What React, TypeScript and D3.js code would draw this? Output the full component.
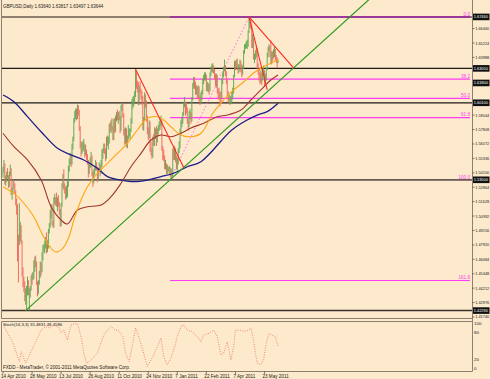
import React from "react";
import * as d3 from "d3";

// ---- Daily GBPUSD bars, [high, low, close] in pips (1.xxxx) ----
const firstOpen = 5390;
const apr2010 = [[5460,5370,5430],[5520,5410,5480],[5490,5310,5350],[5390,5300,5350],[5420,5330,5390],[5450,5360,5380],[5390,5280,5310],[5420,5290,5400],[5480,5380,5440],[5450,5220,5230],[5280,5180,5250],[5340,5230,5320],[5340,5270,5290]];
const may2010 = [[5320,5230,5250],[5260,5130,5170],[5190,5050,5080],[5140,4650,4800],[4880,4470,4790],[5150,4790,4930],[4990,4820,4950],[4960,4800,4820],[4830,4520,4560],[4600,4430,4470],[4520,4390,4450],[4480,4310,4330],[4420,4280,4390],[4440,4229,4410],[4520,4360,4470],[4490,4360,4370],[4420,4231,4400],[4440,4340,4420],[4530,4400,4510],[4550,4450,4500],[4560,4490,4530]];
const jun2010 = [[4660,4500,4640],[4690,4560,4660],[4700,4600,4630],[4650,4450,4460],[4480,4350,4400],[4490,4370,4470],[4570,4450,4530],[4650,4510,4620],[4640,4530,4570],[4730,4560,4700],[4790,4660,4770],[4800,4730,4780],[4830,4720,4800],[4860,4760,4830],[4900,4720,4750],[4830,4730,4800],[4930,4760,4900],[4980,4890,4960],[5090,4940,5070],[5140,5020,5130],[5140,4960,4980],[5000,4940,4950]];
const jul2010 = [[5200,4940,5180],[5230,5140,5180],[5200,5130,5170],[5240,5120,5150],[5200,5080,5170],[5220,5120,5160],[5160,5050,5080],[5100,4950,4960],[5150,4950,5130],[5320,5120,5310],[5400,5280,5380],[5440,5260,5290],[5320,5230,5270],[5290,5180,5240],[5300,5190,5260],[5340,5200,5300],[5470,5290,5450],[5530,5420,5510],[5580,5480,5530],[5560,5460,5490],[5660,5480,5640],[5720,5610,5690]];
const aug2010 = [[5880,5680,5870],[5940,5840,5920],[5960,5870,5930],[5960,5860,5900],[5995,5870,5950],[5990,5900,5930],[5950,5770,5800],[5810,5620,5650],[5680,5550,5600],[5670,5570,5620],[5680,5590,5630],[5700,5600,5650],[5660,5540,5570],[5650,5560,5600],[5610,5520,5550],[5570,5480,5510],[5520,5370,5430],[5500,5400,5480],[5540,5450,5500],[5590,5460,5550],[5560,5380,5400],[5420,5290,5330]];
const sep2010 = [[5440,5320,5420],[5470,5390,5450],[5520,5430,5490],[5500,5430,5450],[5460,5330,5380],[5450,5350,5440],[5500,5420,5470],[5480,5380,5410],[5520,5400,5500],[5610,5460,5590],[5620,5530,5600],[5660,5580,5640],[5660,5570,5600],[5620,5510,5540],[5720,5530,5690],[5730,5640,5680],[5720,5610,5680],[5830,5660,5810],[5840,5760,5790],[5860,5750,5840],[5880,5770,5790],[5810,5690,5700]];
const oct2010 = [[5870,5690,5850],[5880,5750,5770],[5900,5760,5880],[5930,5850,5920],[5950,5860,5900],[5930,5830,5910],[5940,5860,5890],[5900,5750,5780],[5990,5770,5980],[6010,5940,6000],[6010,5880,5900],[5920,5730,5760],[5790,5650,5700],[5800,5660,5750],[5790,5630,5640],[5730,5620,5700],[5820,5690,5750],[5790,5720,5750],[5790,5700,5780],[5880,5760,5850],[6040,5830,6030]];
const nov2010 = [[6060,5960,6030],[6070,5980,6050],[6110,6000,6080],[6298,6060,6260],[6270,6130,6160],[6200,6100,6140],[6190,5990,6010],[6160,5990,6140],[6190,6090,6120],[6130,6040,6090],[6110,5990,6060],[6070,5780,5800],[5890,5770,5870],[6100,5860,6070],[6080,5970,6000],[6030,5850,5880],[5900,5740,5770],[5800,5690,5720],[5860,5710,5840],[5850,5590,5610],[5680,5560,5580],[5620,5530,5560]];
const dec2010 = [[5720,5540,5690],[5740,5640,5680],[5800,5640,5780],[5790,5700,5750],[5810,5640,5690],[5790,5670,5770],[5820,5740,5780],[5850,5770,5800],[5880,5780,5840],[5900,5810,5850],[5860,5600,5620],[5640,5520,5560],[5610,5510,5550],[5560,5440,5470],[5520,5440,5480],[5490,5400,5420],[5480,5400,5430],[5460,5420,5440],[5470,5400,5440],[5460,5380,5400],[5450,5350,5420],[5440,5360,5390],[5620,5380,5600]];
const jan2011 = [[5620,5520,5560],[5640,5520,5580],[5620,5500,5540],[5560,5440,5470],[5540,5430,5510],[5620,5480,5600],[5680,5580,5640],[5790,5620,5770],[5860,5740,5840],[5890,5800,5850],[5930,5830,5920],[6020,5900,6000],[6060,5970,6010],[6020,5900,5960],[6010,5920,5950],[5970,5830,5840],[5870,5770,5820],[5940,5800,5920],[5960,5870,5930],[5930,5830,5860],[6060,5850,6040]];
const feb2011 = [[6180,6030,6160],[6230,6130,6220],[6230,6130,6170],[6190,6080,6120],[6160,6080,6120],[6150,6040,6080],[6160,6050,6140],[6150,6020,6040],[6070,5990,6010],[6100,6000,6070],[6120,6030,6100],[6220,6080,6200],[6250,6170,6230],[6270,6200,6240],[6270,6200,6240],[6250,6110,6140],[6190,6110,6140],[6180,6100,6140],[6170,6080,6120],[6270,6110,6260]];
const mar2011 = [[6320,6240,6300],[6340,6270,6310],[6350,6270,6320],[6330,6260,6290],[6300,6210,6230],[6260,6150,6160],[6260,6140,6240],[6250,6090,6110],[6130,6040,6100],[6140,6040,6080],[6100,5980,6060],[6110,6000,6050],[6220,6040,6200],[6270,6170,6250],[6320,6230,6300],[6380,6280,6320],[6330,6240,6260],[6280,6170,6200],[6220,6070,6090],[6110,6020,6050],[6080,6000,6050],[6070,5990,6030],[6070,6000,6040]];
const apr2011 = [[6110,6000,6060],[6140,6040,6110],[6250,6090,6240],[6370,6230,6360],[6370,6290,6330],[6380,6310,6340],[6390,6290,6310],[6340,6260,6300],[6340,6270,6310],[6380,6290,6360],[6370,6270,6330],[6340,6230,6270],[6330,6250,6310],[6460,6300,6440],[6510,6430,6490],[6520,6470,6510],[6540,6480,6520],[6550,6470,6530],[6630,6490,6620],[6746,6610,6690],[6740,6650,6700]];
const may2011 = [[6720,6640,6660],[6680,6480,6500],[6600,6480,6560],[6570,6380,6400],[6430,6350,6400],[6460,6380,6430],[6500,6400,6470],[6480,6300,6320],[6350,6250,6280],[6300,6200,6230],[6270,6170,6220],[6290,6180,6260],[6270,6160,6220],[6300,6200,6270],[6330,6250,6290],[6290,6150,6190],[6260,6170,6210],[6310,6200,6300],[6440,6290,6430],[6490,6400,6470],[6510,6450,6480],[6500,6400,6440]];
const jun2011 = [[6545,6340,6350],[6450,6340,6440],[6450,6370,6420],[6470,6390,6440],[6490,6400,6470],[6470,6370,6390],[6420,6350,6380],[6400,6310,6330],[6382,6350,6364]];

// ---- Moving averages: [bar index, price] ----
const orangeMA = [[0,1.5291],[12,1.5234],[23,1.5149],[34,1.5034],[42,1.4903],[51,1.4783],[58,1.4731],[66,1.4765],[73,1.4868],[78,1.5005],[86,1.5177],[93,1.5291],[104,1.5406],[115,1.5491],[126,1.5577],[137,1.5663],[148,1.5777],[159,1.5877],[170,1.5891],[177,1.5863],[185,1.5805],[196,1.5734],[207,1.5719],[218,1.5749],[232,1.5931],[243,1.6034],[254,1.6120],[265,1.6188],[276,1.6265],[284,1.6306],[291,1.6334],[298,1.6362],[303,1.6377]];
const brownMA = [[0,1.5749],[12,1.5634],[27,1.5520],[42,1.5348],[53,1.5119],[64,1.5005],[71,1.4971],[82,1.5091],[93,1.5119],[108,1.5134],[119,1.5205],[130,1.5320],[141,1.5462],[152,1.5577],[163,1.5691],[174,1.5734],[185,1.5719],[196,1.5749],[207,1.5794],[221,1.5834],[236,1.5891],[247,1.5905],[262,1.5948],[273,1.6034],[284,1.6120],[295,1.6205],[303,1.6248]];
const navyMA = [[0,1.6077],[12,1.6019],[27,1.5891],[42,1.5762],[60,1.5620],[75,1.5563],[89,1.5520],[104,1.5449],[115,1.5377],[130,1.5348],[144,1.5334],[159,1.5348],[174,1.5377],[188,1.5406],[203,1.5462],[218,1.5505],[252,1.5777],[269,1.5863],[280,1.5905],[291,1.5934],[303,1.6006]];

// ---- Stochastic main line: [bar index, value] ----
const stochK = [[1,92],[11,56],[16,25],[18,14],[20,36],[25,11],[36,58],[42,84],[47,92],[51,89],[56,96],[62,89],[64,78],[67,84],[71,62],[75,96],[78,98],[82,98],[86,70],[89,33],[92,11],[95,14],[99,22],[104,33],[108,56],[111,73],[115,84],[119,92],[124,84],[127,84],[132,70],[135,33],[139,14],[143,56],[146,89],[149,73],[154,40],[159,3],[165,25],[170,47],[174,67],[177,25],[181,7],[185,22],[188,40],[192,70],[196,92],[199,96],[203,84],[208,81],[214,70],[218,58],[221,73],[227,77],[232,84],[236,70],[240,29],[243,33],[247,58],[251,18],[254,47],[256,84],[262,84],[265,81],[271,84],[273,89],[276,62],[278,33],[280,11],[284,7],[287,18],[290,56],[293,77],[296,73],[300,70],[303,47]];

// ---- Axis labels ----
const dateLabels = ["14 Apr 2010","28 May 2010","13 Jul 2010","26 Aug 2010","11 Oct 2010","24 Nov 2010","7 Jan 2011","22 Feb 2011","7 Apr 2011","23 May 2011"];
const dateLabelBars = [0,32,64,96,128,160,192,224,256,288];
const priceTicks = [1.4174,1.42976,1.44212,1.45448,1.46684,1.4792,1.49156,1.50392,1.51628,1.52864,1.541,1.55336,1.56572,1.57808,1.59044,1.6028,1.61516,1.62752,1.63988,1.65224,1.6646];
const priceTickLabels = ["1.41740","1.42976","1.44212","1.45448","1.46684","1.47920","1.49156","1.50392","1.51628","1.52864","1.54100","1.55336","1.56572","1.57808","1.59044","1.60280","1.61516","1.62752","1.63988","1.65224","1.66460"];
const boxPrices = [1.6746,1.6305,1.618,1.601,1.535,1.4229];
const boxLabels = ["1.67460","1.63050","1.61800","1.60100","1.53500","1.42290"];
const stochTicks = [100,80,20,0];

// ---- Drawn objects ----
const hLinePrices = [1.6746,1.6305,1.601,1.535,1.4229];
const hLineColors = ["#6b5a50","#1e1a18","#1e1a18","#6a5f55","#3a332e"];
const hLineWidths = [1.6,1.2,1.2,1.8,1.5];
const fibHigh = 1.6746, fibLow = 1.535;
const fibLevels = [0,38.2,50,61.8,100,161.8];
const fibLabels = ["0.0","38.2","50.0","61.8","100.0","161.8"];
const fibStartBar = 184, fibEndBar = 271;
const greenTrend = [[25,1.4229],[184,1.535]];
const redTrends = [
  [[271,1.6746],[320,1.6309]],
  [[146,1.6298],[199,1.5456]],
  [[271,1.6746],[291,1.612]],
];

const FONT = "'Liberation Sans', Arial, sans-serif";

export default function App() {
  const W = 490, H = 379;
  const months = [apr2010,may2010,jun2010,jul2010,aug2010,sep2010,oct2010,nov2010,dec2010,jan2011,feb2011,mar2011,apr2011,may2011,jun2011];
  const raw = months.flat();
  const bars = raw.map((b, i) => {
    const open = i === 0 ? firstOpen : raw[i - 1][2];
    return { i, o: open / 10000 + 1, h: b[0] / 10000 + 1, l: b[1] / 10000 + 1, c: b[2] / 10000 + 1 };
  });

  const x = d3.scaleLinear().domain([0, 303]).range([3, 278.1]);
  const y = d3.scaleLinear().domain([1.41654, 1.68911]).range([318, 0]);
  const ys = d3.scaleLinear().domain([0, 100]).range([368, 323]);

  const maLine = d3.line<number[]>().x(d => x(d[0])).y(d => y(d[1])).curve(d3.curveCatmullRom.alpha(0.5));
  const stLine = d3.line<number[]>().x(d => x(d[0])).y(d => ys(d[1])).curve(d3.curveLinear);

  const slope = (greenTrend[1][1] - greenTrend[0][1]) / (greenTrend[1][0] - greenTrend[0][0]);
  const gEnd = 430;
  const gEndP = greenTrend[0][1] + slope * (gEnd - greenTrend[0][0]);

  const fibP = (lv: number) => fibHigh - (lv / 100) * (fibHigh - fibLow);
  const axisX = 472.5;

  const boxYs = boxPrices.map(p => y(p));

  return (
    <svg width={W} height={H} style={{ position: "absolute", left: 0, top: 0, background: "#fde9cb" }} fontFamily={FONT}>
      <defs>
        <clipPath id="mainClip"><rect x={2} y={0} width={470} height={318} /></clipPath>
      </defs>
      <rect x={0} y={0} width={W} height={H} fill="#fde9cb" />

      <g clipPath="url(#mainClip)">
        {fibLevels.map((lv, k) => (
          <line key={"fib" + k} x1={x(fibStartBar)} x2={470} y1={y(fibP(lv))} y2={y(fibP(lv))} stroke="#ff3cf5" strokeWidth={1.1} />
        ))}
        {hLinePrices.map((p, k) => (
          <line key={"h" + k} x1={2} x2={472} y1={y(p)} y2={y(p)} stroke={hLineColors[k]} strokeWidth={hLineWidths[k]} />
        ))}
        <line x1={x(fibStartBar)} x2={470} y1={y(fibHigh)} y2={y(fibHigh)} stroke="#a22aa6" strokeWidth={1.6} />
        <line x1={x(fibStartBar)} y1={y(fibLow)} x2={x(fibEndBar)} y2={y(fibHigh)} stroke="#ff5cf0" strokeWidth={0.9} strokeDasharray="1.5 2" />

        {bars.map(b => (
          <line key={"b" + b.i} x1={x(b.i)} x2={x(b.i)} y1={y(b.h)} y2={y(b.l)}
            stroke={b.c >= b.o ? "#5aa84e" : "#f0665c"} strokeWidth={0.95} />
        ))}

        <path d={maLine(navyMA) || ""} fill="none" stroke="#1c1c8a" strokeWidth={1.3} />
        <path d={maLine(brownMA) || ""} fill="none" stroke="#a0362c" strokeWidth={1.1} />
        <path d={maLine(orangeMA) || ""} fill="none" stroke="#ffa512" strokeWidth={1.1} />

        <line x1={x(greenTrend[0][0])} y1={y(greenTrend[0][1])} x2={x(gEnd)} y2={y(gEndP)} stroke="#2f9a1e" strokeWidth={1.2} />
        {redTrends.map((t, k) => (
          <line key={"r" + k} x1={x(t[0][0])} y1={y(t[0][1])} x2={x(t[1][0])} y2={y(t[1][1])} stroke="#ff2a22" strokeWidth={1.1} />
        ))}
      </g>

      {fibLevels.map((lv, k) => (
        <text key={"fl" + k} x={470} y={y(fibP(lv)) - 1.2} textAnchor="end" fontSize={4.6} fill="#ff3cf5">{fibLabels[k]}</text>
      ))}

      <line x1={1.5} x2={1.5} y1={0} y2={318.5} stroke="#8c8070" strokeWidth={1} />
      <line x1={1.5} x2={axisX} y1={318.5} y2={318.5} stroke="#8c8070" strokeWidth={1} />
      <line x1={1.5} x2={axisX} y1={321.5} y2={321.5} stroke="#8c8070" strokeWidth={1} />
      <line x1={1.5} x2={axisX} y1={371.5} y2={371.5} stroke="#8c8070" strokeWidth={1} />
      <line x1={1.5} x2={1.5} y1={321.5} y2={371.5} stroke="#8c8070" strokeWidth={1} />
      <line x1={axisX} x2={axisX} y1={0} y2={371.5} stroke="#8c8070" strokeWidth={1} />

      <text x={3} y={8} fontSize={4.5} fill="#222">GBPUSD,Daily  1.63640 1.63817 1.63497 1.63644</text>

      {priceTicks.map((p, k) => {
        const yy = y(p);
        if (boxYs.some(b => Math.abs(b - yy) < 6)) return null;
        return (
          <g key={"pt" + k}>
            <line x1={472.5} x2={474.5} y1={yy} y2={yy} stroke="#333" strokeWidth={0.6} />
            <text x={475.2} y={yy + 1.5} fontSize={3.9} fill="#222">{priceTickLabels[k]}</text>
          </g>
        );
      })}
      {boxPrices.map((p, k) => (
        <g key={"bx" + k}>
          <rect x={473} y={y(p) - 3.3} width={16.5} height={6.6} fill="#111" />
          <text x={473.8} y={y(p) + 1.5} fontSize={3.9} fill="#fff">{boxLabels[k]}</text>
        </g>
      ))}

      <text x={3} y={325.5} fontSize={4.3} fill="#222">Stoch(14,3,3) 35.4831 48.4586</text>
      <path d={stLine(stochK) || ""} fill="none" stroke="#f07a72" strokeWidth={0.9} strokeDasharray="1 1.4" />
      {stochTicks.map(v => (
        <text key={"st" + v} x={474} y={ys(v) + 1.6} fontSize={4.4} fill="#222">{v}</text>
      ))}
      <text x={3} y={368.5} fontSize={4.6} fill="#222">FXDD - MetaTrader, © 2001-2011 MetaQuotes Software Corp.</text>

      {dateLabelBars.map((bi, k) => (
        <g key={"d" + k}>
          <line x1={x(bi)} x2={x(bi)} y1={371.5} y2={374} stroke="#333" strokeWidth={0.6} />
          <text x={x(bi) - 2} y={377.8} fontSize={4.6} fill="#222">{dateLabels[k]}</text>
        </g>
      ))}
    </svg>
  );
}
